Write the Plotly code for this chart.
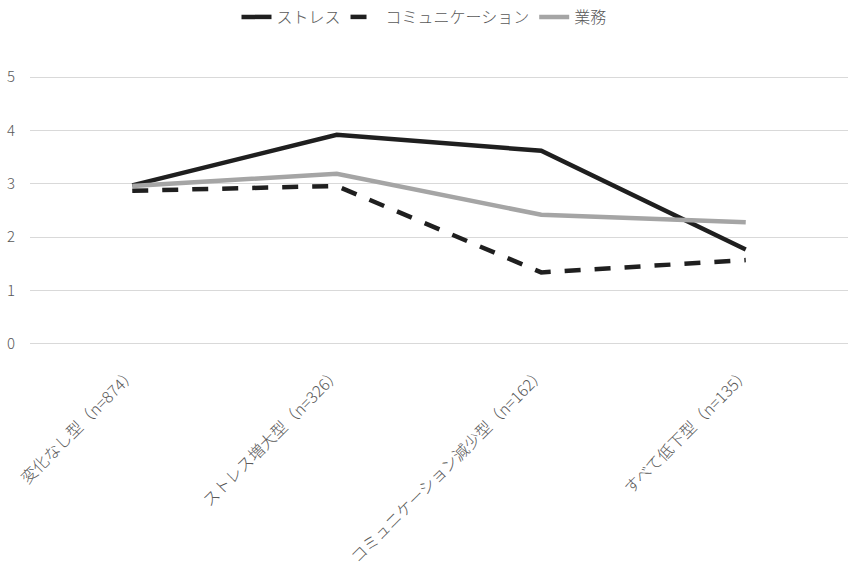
import plotly.graph_objects as go

# Categories and mean scores per group
categories = [
    "変化なし型（n=874）",
    "ストレス増大型（n=326）",
    "コミュニケーション減少型（n=162）",
    "すべて低下型（n=135）",
]
stress = [2.97, 3.92, 3.62, 1.77]
communication = [2.87, 2.96, 1.34, 1.57]
work = [2.96, 3.19, 2.42, 2.28]

FONT = "Noto Sans CJK JP, Noto Sans, sans-serif"
TEXT_COLOR = "#595959"

fig = go.Figure()
fig.add_trace(go.Scatter(
    x=categories, y=stress, name="ストレス", mode="lines",
    line=dict(color="#1f1f1f", width=4.5),
))
fig.add_trace(go.Scatter(
    x=categories, y=communication, name="コミュニケーション", mode="lines",
    line=dict(color="#1f1f1f", width=4.5, dash="16px,14px"),
))
fig.add_trace(go.Scatter(
    x=categories, y=work, name="業務", mode="lines",
    line=dict(color="#a5a5a5", width=4.5),
))

fig.update_layout(
    width=848, height=569,
    margin=dict(l=30, r=0, t=75, b=223),
    plot_bgcolor="white", paper_bgcolor="white",
    font=dict(family=FONT, size=15, color=TEXT_COLOR, weight=300),
    showlegend=True,
    legend=dict(
        orientation="h", xref="container", yref="container",
        x=0.5, xanchor="center", y=1.0, yanchor="top",
        font=dict(size=16, color=TEXT_COLOR, weight=300),
        itemwidth=30, tracegroupgap=0,
    ),
    xaxis=dict(
        type="category", range=[-0.5, 3.5],
        tickangle=-45, showgrid=False, showline=False, zeroline=False,
        ticks="", ticklabelstandoff=14,
        tickfont=dict(size=16, color=TEXT_COLOR, weight=300),
    ),
    yaxis=dict(
        range=[-0.04, 5.04], tickvals=[0, 1, 2, 3, 4, 5],
        showgrid=True, gridcolor="#d9d9d9", gridwidth=1.3,
        zeroline=False, showline=False, ticks="",
        ticklabelstandoff=14,
        tickfont=dict(size=15, color=TEXT_COLOR, weight=300),
    ),
)

fig.write_html("out.html")
